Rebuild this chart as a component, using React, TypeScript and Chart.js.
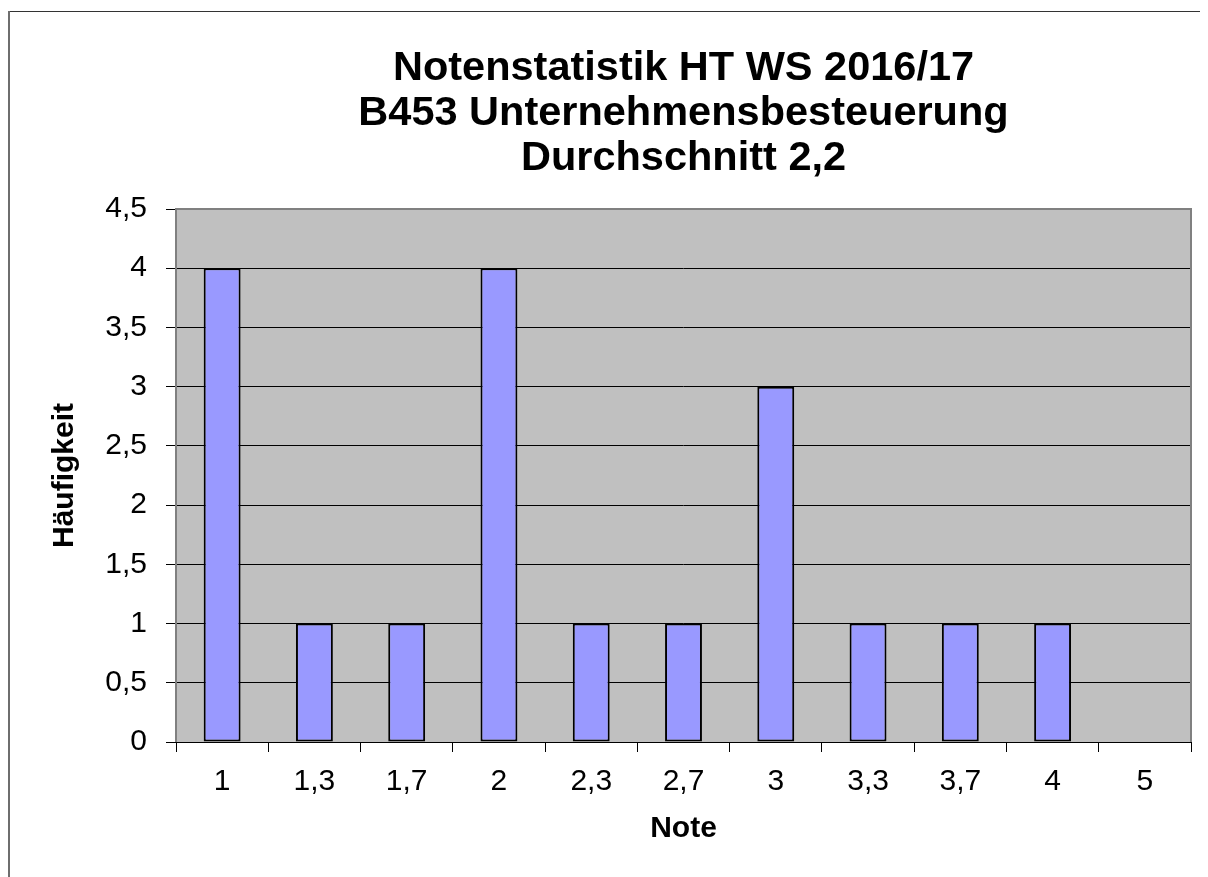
import { useEffect, useRef } from "react";
import { Chart, registerables } from "chart.js";

Chart.register(...registerables);

const categories = ["1", "1,3", "1,7", "2", "2,3", "2,7", "3", "3,3", "3,7", "4", "5"];
const counts = [4, 1, 1, 4, 1, 1, 3, 1, 1, 1, 0];
const titleLines = ["Notenstatistik HT WS 2016/17", "B453 Unternehmensbesteuerung", "Durchschnitt 2,2"];
const yAxisTitle = "Häufigkeit";
const xAxisTitle = "Note";
const yMin = 0;
const yMax = 4.5;
const yStep = 0.5;

const W = 1200;
const H = 869;
const FONT = "'Liberation Sans', Arial, sans-serif";

const framePlugin = {
  id: "excelFrame",
  beforeDraw(chart: any) {
    const { ctx, chartArea: a } = chart;
    ctx.save();
    ctx.fillStyle = "#FFFFFF";
    ctx.fillRect(0, 0, chart.width, chart.height);
    ctx.fillStyle = "#C0C0C0";
    ctx.fillRect(a.left, a.top, a.right - a.left, a.bottom - a.top);
    ctx.fillStyle = "#333333";
    ctx.fillRect(0, 3, chart.width, 1);
    ctx.fillStyle = "#6e6e6e";
    ctx.fillRect(0, 3, 2, chart.height);
    ctx.restore();
  },
  afterDraw(chart: any) {
    const { ctx, chartArea: a } = chart;
    ctx.save();
    ctx.strokeStyle = "#808080";
    ctx.lineWidth = 2;
    ctx.beginPath();
    ctx.moveTo(a.left, a.bottom);
    ctx.lineTo(a.left, a.top);
    ctx.lineTo(a.right, a.top);
    ctx.lineTo(a.right, a.bottom);
    ctx.stroke();
    ctx.restore();
  },
};

export default function App() {
  const ref = useRef<HTMLCanvasElement | null>(null);

  useEffect(() => {
    const canvas = ref.current;
    if (!canvas) return;
    const chart = new Chart(canvas, {
      type: "bar",
      data: {
        labels: categories,
        datasets: [
          {
            label: "Häufigkeit",
            data: counts,
            backgroundColor: "#9999FF",
            borderColor: "#000000",
            borderWidth: 2,
            borderSkipped: false,
            barPercentage: 0.4,
            categoryPercentage: 1,
          },
        ],
      },
      options: {
        animation: false,
        responsive: false,
        devicePixelRatio: 1,
        events: [],
        layout: { padding: { top: 10, left: 20, right: 17, bottom: 28 } },
        plugins: {
          legend: { display: false },
          tooltip: { enabled: false },
          title: {
            display: true,
            text: titleLines,
            fullSize: false,
            color: "#000000",
            font: { family: FONT, size: 41.5, weight: "bold", lineHeight: 45 / 41.5 },
            padding: { top: 28, bottom: 28 },
          },
        },
        scales: {
          x: {
            afterFit: (scale: any) => {
              scale.height = 107;
            },
            grid: {
              display: true,
              drawOnChartArea: false,
              drawTicks: true,
              tickLength: 10,
              color: "#000000",
              offset: true,
            },
            border: { display: true, color: "#000000", width: 1 },
            ticks: {
              color: "#000000",
              font: { family: FONT, size: 30 },
              padding: 12,
              maxRotation: 0,
              autoSkip: false,
            },
            title: {
              display: true,
              text: xAxisTitle,
              color: "#000000",
              font: { family: FONT, size: 30, weight: "bold" },
              padding: { top: 0, bottom: 2 },
            },
          },
          y: {
            min: yMin,
            max: yMax,
            afterFit: (scale: any) => {
              scale.width = 148;
            },
            grid: {
              color: "#000000",
              lineWidth: 1,
              tickLength: 10,
              drawTicks: true,
            },
            border: { display: false },
            ticks: {
              stepSize: yStep,
              color: "#000000",
              font: { family: FONT, size: 30 },
              padding: 19,
              callback: (v: any) => String(v).replace(".", ","),
            },
            title: {
              display: true,
              text: yAxisTitle,
              color: "#000000",
              font: { family: FONT, size: 30, weight: "bold" },
              padding: { top: 19, bottom: 0 },
            },
          },
        },
      },
      plugins: [framePlugin],
    });
    return () => chart.destroy();
  }, []);

  return (
    <canvas
      ref={ref}
      width={W}
      height={H}
      style={{ display: "block", width: W + "px", height: H + "px" }}
    />
  );
}
